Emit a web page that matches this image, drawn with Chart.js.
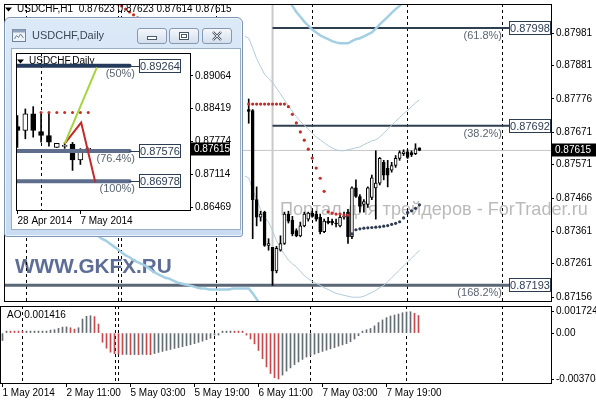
<!DOCTYPE html>
<html>
<head>
<meta charset="utf-8">
<script src="https://cdn.jsdelivr.net/npm/chart.js@4.4.1/dist/chart.umd.min.js"></script>
<style>
  html, body { margin: 0; padding: 0; background: #fff; }
  #wrap { position: relative; width: 596px; height: 400px; overflow: hidden; }
  #win { position: absolute; left: 4px; top: 17px; width: 237px; height: 218px;
         border: 1px solid #7c95b5; border-radius: 6px 6px 3px 3px;
         background: linear-gradient(#dce9f7, #c8dbf0); box-shadow: inset 0 0 0 1px #edf4fc; }
  #winIcon { position: absolute; left: 7px; top: 10px; }
  #winTitle { position: absolute; left: 27px; top: 11px; line-height: 13px;
              font: 11px "Liberation Sans", Arial, sans-serif; color: #3b4756; }
  .btn { position: absolute; top: 10px; width: 28px; height: 14px; border: 1px solid #8699b2;
         border-radius: 3px; background: linear-gradient(#f4f7fb, #d4dfec); }
  .btn svg { display: block; }
  #client { position: absolute; left: 6px; top: 30px; width: 228px; height: 180px;
            background: #fff; border: 1px solid #9aaec6; }
  #dailyCanvas { display: block; }
</style>
</head>
<body>
<div id="wrap">
  <canvas id="mainCanvas" width="596" height="306" style="position:absolute;left:0;top:0"></canvas>
  <canvas id="aoCanvas" width="596" height="94" style="position:absolute;left:0;top:306px"></canvas>
  <div id="win">
    <svg id="winIcon" width="14" height="14">
      <rect x="0.5" y="1.5" width="13" height="12" fill="#eef3f9" stroke="#6f8299"/>
      <rect x="0.5" y="1.5" width="13" height="3" fill="#8ea2bb"/>
      <path d="M2.5 11 L4.5 7.5 L6.5 9.5 L8.5 6 L11.5 10" stroke="#6f8299" fill="none"/>
    </svg>
    <div id="winTitle">USDCHF,Daily</div>
    <div class="btn" style="left:132px"><svg width="28" height="14"><rect x="9.5" y="7.5" width="9" height="3" fill="#fff" stroke="#4b5869"/></svg></div>
    <div class="btn" style="left:164px"><svg width="28" height="14"><rect x="9.5" y="3.5" width="9" height="7" fill="#fff" stroke="#4b5869"/><rect x="11.5" y="5.5" width="5" height="3" fill="none" stroke="#4b5869"/></svg></div>
    <div class="btn" style="left:197px"><svg width="28" height="14"><path d="M10 3 L18 11 M18 3 L10 11" stroke="#4b5869" stroke-width="2.4"/><path d="M10 3 L18 11 M18 3 L10 11" stroke="#fff" stroke-width="0.8"/></svg></div>
    <div id="client"><canvas id="dailyCanvas" width="228" height="180"></canvas></div>
  </div>
</div>
<script>
// ---- H1 chart data (one slot = one hour bar, slot 0 = 1 May 2014 19:00) ----
const timeSlots = [0, 16, 32, 48, 64, 80, 96];
const timeLabels = ['1 May 2014', '2 May 11:00', '5 May 03:00', '5 May 19:00', '6 May 11:00', '7 May 03:00', '7 May 19:00'];
const daySeparators = [5, 28.25, 29, 53, 77, 101, 125];
const priceTicks = [0.87981, 0.87881, 0.87776, 0.87671, 0.87571, 0.87466, 0.87361, 0.87261, 0.87156];
const bidPrice = 0.87615;

// visible candles, first one is slot 61 (the rest sit under the Daily window)
const h1Start = 61;
const h1Open  = [0.87743, 0.87740, 0.87461, 0.87406, 0.87422, 0.87318, 0.87312, 0.87238, 0.87303, 0.87324,
                 0.87416, 0.87397, 0.87364, 0.87348, 0.87379, 0.87400, 0.87419, 0.87416, 0.87406, 0.87361,
                 0.87394, 0.87394, 0.87388, 0.87379, 0.87406, 0.87422, 0.87345, 0.87498, 0.87471, 0.87446,
                 0.87446, 0.87468, 0.87498, 0.87513, 0.87578, 0.87559, 0.87553, 0.87568, 0.87590, 0.87605,
                 0.87611, 0.87608, 0.87605, 0.87623];
const h1High  = [0.87776, 0.87743, 0.87501, 0.87425, 0.87425, 0.87339, 0.87312, 0.87315, 0.87348, 0.87422,
                 0.87425, 0.87409, 0.87370, 0.87391, 0.87422, 0.87422, 0.87425, 0.87425, 0.87416, 0.87400,
                 0.87406, 0.87400, 0.87400, 0.87416, 0.87422, 0.87431, 0.87501, 0.87523, 0.87477, 0.87461,
                 0.87501, 0.87538, 0.87614, 0.87593, 0.87584, 0.87584, 0.87578, 0.87599, 0.87614, 0.87617,
                 0.87617, 0.87614, 0.87636, 0.87623];
const h1Low   = [0.87700, 0.87339, 0.87379, 0.87394, 0.87315, 0.87303, 0.87193, 0.87232, 0.87300, 0.87321,
                 0.87388, 0.87348, 0.87345, 0.87345, 0.87376, 0.87394, 0.87406, 0.87394, 0.87354, 0.87358,
                 0.87385, 0.87382, 0.87376, 0.87376, 0.87400, 0.87324, 0.87339, 0.87468, 0.87422, 0.87422,
                 0.87437, 0.87461, 0.87400, 0.87507, 0.87523, 0.87501, 0.87547, 0.87562, 0.87584, 0.87599,
                 0.87590, 0.87596, 0.87602, 0.87614];
const h1Close = [0.87737, 0.87461, 0.87406, 0.87416, 0.87318, 0.87324, 0.87238, 0.87309, 0.87324, 0.87416,
                 0.87394, 0.87354, 0.87348, 0.87379, 0.87416, 0.87419, 0.87409, 0.87400, 0.87361, 0.87394,
                 0.87388, 0.87388, 0.87385, 0.87406, 0.87409, 0.87345, 0.87498, 0.87471, 0.87440, 0.87455,
                 0.87498, 0.87529, 0.87513, 0.87590, 0.87538, 0.87538, 0.87568, 0.87590, 0.87608, 0.87611,
                 0.87593, 0.87602, 0.87620, 0.87615];

// Bollinger (thin) from slot 60
const bbUpper = [0.87972, 0.87966, 0.87935, 0.87902, 0.87877, 0.87853, 0.87840, 0.87828, 0.87810, 0.87792,
                 0.87773, 0.87755, 0.87737, 0.87721, 0.87706, 0.87694, 0.87682, 0.87669, 0.87657, 0.87648,
                 0.87639, 0.87630, 0.87623, 0.87617, 0.87614, 0.87614, 0.87617, 0.87620, 0.87623, 0.87626,
                 0.87633, 0.87639, 0.87645, 0.87648, 0.87657, 0.87669, 0.87682, 0.87694, 0.87706, 0.87718,
                 0.87730, 0.87740, 0.87752, 0.87764, 0.87773];
const bbLower = [0.87535, 0.87529, 0.87492, 0.87461, 0.87431, 0.87406, 0.87391, 0.87364, 0.87333, 0.87309,
                 0.87290, 0.87272, 0.87260, 0.87251, 0.87238, 0.87223, 0.87214, 0.87205, 0.87199, 0.87193,
                 0.87186, 0.87180, 0.87174, 0.87168, 0.87165, 0.87162, 0.87159, 0.87156, 0.87156, 0.87156,
                 0.87159, 0.87165, 0.87171, 0.87177, 0.87186, 0.87193, 0.87205, 0.87217, 0.87229, 0.87241,
                 0.87254, 0.87266, 0.87278, 0.87290, 0.87303];
// wide band (thick line): upper from slot 70, lower from slot 22
const wideUpper = [0.88103, 0.88085, 0.88067, 0.88048, 0.88033, 0.88018, 0.88005, 0.87993, 0.87984, 0.87975,
                   0.87969, 0.87963, 0.87957, 0.87953, 0.87950, 0.87950, 0.87950, 0.87957, 0.87963, 0.87966,
                   0.87972, 0.87978, 0.87984, 0.87996, 0.88009, 0.88021, 0.88033, 0.88045, 0.88057, 0.88067,
                   0.88079, 0.88090];
const wideLower = [0.87358, 0.87348, 0.87339, 0.87333, 0.87324, 0.87315, 0.87306, 0.87296, 0.87287, 0.87281,
                   0.87272, 0.87266, 0.87260, 0.87254, 0.87245, 0.87235, 0.87229, 0.87223, 0.87217, 0.87214,
                   0.87208, 0.87202, 0.87199, 0.87196, 0.87193, 0.87190, 0.87186, 0.87183, 0.87183, 0.87180,
                   0.87180, 0.87180, 0.87180, 0.87180, 0.87180, 0.87183, 0.87183, 0.87183, 0.87183, 0.87183,
                   0.87168, 0.87150, 0.87131];

// Parabolic SAR
const sarTop  = [0.88073, 0.88067, 0.88057, 0.88048, 0.88039, 0.88030];                      // slots 28-33
const sarBear = [0.87760, 0.87760, 0.87760, 0.87760, 0.87760, 0.87760, 0.87760, 0.87760, 0.87760, 0.87760,
                 0.87752, 0.87728, 0.87701, 0.87673, 0.87647, 0.87619, 0.87591, 0.87560, 0.87528, 0.87487,
                 0.87423, 0.87419, 0.87416, 0.87416, 0.87413, 0.87413];                      // slots 61-86
const sarBull = [0.87354, 0.87367, 0.87370, 0.87372, 0.87373, 0.87374, 0.87375, 0.87376, 0.87378, 0.87380,
                 0.87384, 0.87387, 0.87392, 0.87404, 0.87421, 0.87426, 0.87434, 0.87445];    // slots 87-104

// Fibonacci object on H1
const fibLevelsH1 = [0.87998, 0.87692, 0.87193];
const fibNamesH1 = ['(61.8%)', '(38.2%)', '(168.2%)'];
const fibStartH1 = [67, 67, -2];
const fibEndH1 = 126.6;
const fibPivotH1 = 67;

// Awesome Oscillator, slots 0-104
const aoTicks = [0.001724, 0, -0.003704];
const aoValues = [
  -0.00060, 0.00010, 0.00008, 0.00007, 0.00006, 0.00005, 0.00006, 0.00006, 0.00007, 0.00008,
   0.00011, 0.00016, 0.00024, 0.00027, 0.00038, 0.00048, 0.00050, 0.00043, 0.00032, 0.00043,
   0.00113, 0.00135, 0.00140, 0.00133, 0.00073, -0.00074, -0.00122, -0.00154, -0.00166, -0.00171,
  -0.00173, -0.00172, -0.00174, -0.00173, -0.00174, -0.00172, -0.00173, -0.00174, -0.00165, -0.00156,
  -0.00148, -0.00140, -0.00132, -0.00124, -0.00117, -0.00110, -0.00102, -0.00094, -0.00085, -0.00075,
  -0.00065, -0.00054, -0.00042, -0.00012, -0.00004, 0.00004, 0.00005, 0.00005, 0.00004, 0.00003,
   0.00002, -0.00012, -0.00048, -0.00087, -0.00140, -0.00207, -0.00273, -0.00326, -0.00360, -0.003704,
  -0.00339, -0.00307, -0.00281, -0.00254, -0.00233, -0.00212, -0.00193, -0.00180, -0.00170, -0.00159,
  -0.00148, -0.00138, -0.00127, -0.00117, -0.00106, -0.00095, -0.00085, -0.00069, -0.00048, -0.00021,
   0.00016, 0.00027, 0.00037, 0.00058, 0.00085, 0.00106, 0.00125, 0.00138, 0.00146, 0.00154,
   0.00164, 0.00170, 0.001724, 0.00160, 0.001416];

// ---- Daily chart data (28 Apr .. 8 May 2014) ----
const dailyTickIdx = [0, 8];
const dailyTickLabels = ['28 Apr 2014', '7 May 2014'];
const dailySeparators = [3];
const dailyTicks = [0.89064, 0.88419, 0.87774, 0.87114, 0.86469];
const dailyOpen  = [0.88061, 0.87983, 0.88311, 0.87963, 0.87884, 0.87649, 0.87668, 0.87712, 0.87400, 0.87611];
const dailyHigh  = [0.88278, 0.88409, 0.88455, 0.88323, 0.88342, 0.87727, 0.87747, 0.87747, 0.87625, 0.87636];
const dailyLow   = [0.87649, 0.87819, 0.87851, 0.87753, 0.87675, 0.87649, 0.87629, 0.87193, 0.87310, 0.87590];
const dailyClose = [0.87983, 0.88311, 0.87983, 0.87884, 0.87753, 0.87727, 0.87672, 0.87400, 0.87605, 0.87615];
const dailySar = [0.88337, 0.88337, 0.88337, 0.88337, 0.88337, 0.88337, 0.88337];          // days 3-9
const fibLevelsD1 = [0.89264, 0.87576, 0.86978];
const fibNamesD1 = ['(50%)', '(76.4%)', '(100%)'];
const fibEndD1 = 14.25;
const waveUpX = [6, 10.1];
const waveUpY = [0.87725, 0.89230];
const waveDownX = [6, 8.1, 9.9];
const waveDownY = [0.87725, 0.88140, 0.86960];

// ---- helpers ----
Chart.defaults.font.family = "'Liberation Sans', Arial, sans-serif";
Chart.defaults.font.size = 10;
Chart.defaults.color = '#000';

const FONT = "'Liberation Sans', Arial, sans-serif";
const pts = (start, vals) => vals.map((v, i) => ({ x: start + i, y: v }));
const xy = (xs, ys) => xs.map((v, i) => ({ x: v, y: ys[i] }));

function lineSet(data, color, width, order, extra) {
  return Object.assign({ type: 'line', data: data, borderColor: color, borderWidth: width,
    pointRadius: 0, fill: false, order: order }, extra || {});
}
function dotSet(data, color, order, r) {
  return { type: 'line', data: data, showLine: false, pointRadius: r || 1.6, pointBackgroundColor: color,
    pointBorderWidth: 0, order: order };
}
function candleSets(start, o, h, l, c, width) {
  return [
    { type: 'bar', data: h.map((v, i) => ({ x: start + i, y: [l[i], v] })), backgroundColor: '#000',
      barThickness: 1, grouped: false, order: 3 },
    { type: 'bar', data: o.map((v, i) => ({ x: start + i, y: [v, c[i]] })),
      backgroundColor: o.map((v, i) => c[i] >= v ? '#fff' : '#000'), borderColor: '#000', borderWidth: 1,
      borderSkipped: false, barThickness: width, minBarLength: 1, grouped: false, order: 2 }
  ];
}
const fixTicks = list => scale => { scale.ticks = list.map(v => ({ value: v })); };
const fixWidth = w => s => { s.width = w; s.paddingTop = 0; s.paddingBottom = 0; };
const fixHeight = h => s => { s.height = h; s.paddingLeft = 0; s.paddingRight = 0; };

function fitText(ctx, text, x, y, maxW, style, size) {
  ctx.font = style + size + 'px ' + FONT;
  const w = ctx.measureText(text).width;
  ctx.font = style + (size * maxW / w).toFixed(2) + 'px ' + FONT;
  ctx.textAlign = 'left';
  ctx.textBaseline = 'middle';
  ctx.fillText(text, x, y);
}
function drawHeader(ctx, x, y, text) {
  ctx.fillStyle = '#000';
  ctx.beginPath();
  ctx.moveTo(x, y - 2); ctx.lineTo(x + 7, y - 2); ctx.lineTo(x + 3.5, y + 2); ctx.closePath();
  ctx.fill();
  ctx.font = '10px ' + FONT;
  ctx.textAlign = 'left';
  ctx.textBaseline = 'middle';
  ctx.fillText(text, x + 12, y);
}
function dashedVerticals(ctx, xScale, area, list) {
  ctx.strokeStyle = '#000';
  ctx.lineWidth = 1;
  ctx.setLineDash([3, 3]);
  list.forEach(s => {
    const px = Math.round(xScale.getPixelForValue(s) - 0.5) + 0.5;
    ctx.beginPath(); ctx.moveTo(px, area.top); ctx.lineTo(px, area.bottom); ctx.stroke();
  });
  ctx.setLineDash([]);
}
function frame(ctx, a) {
  ctx.strokeStyle = '#000';
  ctx.lineWidth = 1;
  ctx.strokeRect(a.left + 0.5, a.top + 0.5, a.right - a.left, a.bottom - a.top - 1);
}
function fibBox(ctx, x0, py, text, name, nameRight) {
  ctx.fillStyle = '#fff';
  ctx.fillRect(x0 + 0.5, py - 6.5, 41, 13);
  ctx.strokeStyle = '#2c3d52';
  ctx.lineWidth = 1;
  ctx.strokeRect(x0 + 0.5, py - 6.5, 41, 13);
  ctx.font = '11px ' + FONT;
  ctx.fillStyle = '#2c3d52';
  ctx.textAlign = 'center';
  ctx.textBaseline = 'middle';
  ctx.fillText(text, x0 + 21, py + 0.5);
  ctx.fillStyle = '#5b6672';
  ctx.textAlign = 'right';
  ctx.fillText(name, nameRight, py + 8);
}
function priceBox(ctx, a, py, x1, text) {
  ctx.fillStyle = '#000';
  ctx.fillRect(a.right + 1, py - 6.5, x1 - a.right - 1, 13);
  ctx.fillStyle = '#fff';
  ctx.font = '10px ' + FONT;
  ctx.textAlign = 'left';
  ctx.textBaseline = 'middle';
  ctx.fillText(text, a.right + 4, py + 0.5);
}

const xMin = -0.625, xMax = 137.125;   // 4 px per hour bar

// ---- main H1 chart ----
const mainDecor = {
  id: 'mainDecor',
  beforeDatasetsDraw(chart) {
    const { ctx, chartArea: a, scales: { x } } = chart;
    ctx.save();
    ctx.fillStyle = 'rgba(130,130,130,0.55)';
    fitText(ctx, 'Портал для трейдеров - ForTrader.ru', 280, 210, 308, '', 17);
    ctx.fillStyle = 'rgba(66,84,132,0.85)';
    fitText(ctx, 'WWW.GKFX.RU', 15, 267, 157, 'bold ', 20);
    dashedVerticals(ctx, x, a, daySeparators);
    ctx.restore();
  },
  afterDatasetsDraw(chart) {
    const { ctx, chartArea: a, scales: { x, y } } = chart;
    ctx.save();
    const bx = Math.round(x.getPixelForValue(fibEndH1));
    fibLevelsH1.forEach((v, i) => {
      fibBox(ctx, bx, Math.round(y.getPixelForValue(v)), v.toFixed(5), fibNamesH1[i], bx - 7);
    });
    priceBox(ctx, a, Math.round(y.getPixelForValue(bidPrice)), 596, bidPrice.toFixed(5));
    const n = h1Close.length - 1;
    const ohlc = [h1Open[n], h1High[n], h1Low[n], h1Close[n]].map(v => v.toFixed(5)).join(' ');
    drawHeader(ctx, 5, 9.5, 'USDCHF,H1  ' + ohlc);
    frame(ctx, a);
    ctx.restore();
  }
};

new Chart(document.getElementById('mainCanvas'), {
  type: 'bar',
  data: {
    datasets: [
      lineSet([{ x: xMin - 1, y: bidPrice }, { x: xMax + 1, y: bidPrice }], '#c6c6c6', 1, 9),
      lineSet([{ x: fibPivotH1, y: fibLevelsH1[2] }, { x: fibPivotH1, y: 0.8815 }], '#c9c9c9', 2, 8),
      ...fibLevelsH1.map((v, i) => lineSet([{ x: fibStartH1[i], y: v }, { x: fibEndH1, y: v }],
        i === 2 ? '#5c6776' : '#2f3f4f', i === 2 ? 3 : 2, 7)),
      lineSet(pts(70, wideUpper), '#a4cfe2', 2.5, 6),
      lineSet(pts(22, wideLower), '#a4cfe2', 2.5, 6),
      lineSet(pts(60, bbUpper), '#b2cbdb', 1, 5),
      lineSet(pts(60, bbLower), '#b2cbdb', 1, 5),
      ...candleSets(h1Start, h1Open, h1High, h1Low, h1Close, 3),
      dotSet(pts(28, sarTop), '#bf2f2b', 1),
      dotSet(pts(61, sarBear), '#bf2f2b', 1),
      dotSet(pts(87, sarBull), '#2c3a52', 1)
    ]
  },
  options: {
    responsive: false, animation: false, events: [],
    layout: { padding: { left: 0, right: 0, top: 0, bottom: 1 } },
    plugins: { legend: { display: false }, tooltip: { enabled: false } },
    scales: {
      x: { type: 'linear', min: xMin, max: xMax, offset: false, display: false },
      y: {
        position: 'right', min: 0.87141, max: 0.88073,
        afterFit: fixWidth(45), afterBuildTicks: fixTicks(priceTicks),
        ticks: { autoSkip: false, padding: 2, callback: v => v.toFixed(5) },
        grid: { drawOnChartArea: false, tickLength: 3, color: '#000' },
        border: { display: false }
      }
    }
  },
  plugins: [mainDecor]
});

// ---- AO sub-window ----
const aoDecor = {
  id: 'aoDecor',
  beforeDatasetsDraw(chart) {
    const { ctx, chartArea: a, scales: { x } } = chart;
    ctx.save();
    dashedVerticals(ctx, x, a, daySeparators);
    ctx.restore();
  },
  afterDatasetsDraw(chart) {
    const { ctx, chartArea: a } = chart;
    ctx.save();
    ctx.fillStyle = '#000';
    ctx.font = '10px ' + FONT;
    ctx.textAlign = 'left';
    ctx.textBaseline = 'middle';
    ctx.fillText('AO ' + aoValues[aoValues.length - 1].toFixed(6), 7, 9.5);
    frame(ctx, a);
    ctx.restore();
  }
};

new Chart(document.getElementById('aoCanvas'), {
  type: 'bar',
  data: {
    datasets: [{
      data: pts(0, aoValues),
      backgroundColor: aoValues.map((v, i) => i > 0 && v < aoValues[i - 1] ? '#c8484c' : '#646c76'),
      barThickness: 1, minBarLength: 2, grouped: false
    }]
  },
  options: {
    responsive: false, animation: false, events: [],
    layout: { padding: 0 },
    plugins: { legend: { display: false }, tooltip: { enabled: false } },
    scales: {
      x: {
        type: 'linear', min: xMin, max: xMax, offset: false,
        afterFit: fixHeight(16), afterBuildTicks: fixTicks(timeSlots),
        ticks: { autoSkip: false, maxRotation: 0, align: 'start', padding: 0,
                 callback: v => timeLabels[timeSlots.indexOf(v)] },
        grid: { drawOnChartArea: false, tickLength: 3, color: '#000', offset: false },
        border: { display: false }
      },
      y: {
        position: 'right', min: -0.004107, max: 0.002184,
        afterFit: fixWidth(45), afterBuildTicks: fixTicks(aoTicks),
        ticks: { autoSkip: false, padding: 2, callback: v => v === 0 ? '0.00' : v.toFixed(6) },
        grid: { drawOnChartArea: false, tickLength: 3, color: '#000' },
        border: { display: false }
      }
    }
  },
  plugins: [aoDecor]
});

// ---- Daily chart inside the floating window ----
const dailyDecor = {
  id: 'dailyDecor',
  beforeDatasetsDraw(chart) {
    const { ctx, chartArea: a, scales: { x } } = chart;
    ctx.save();
    dashedVerticals(ctx, x, a, dailySeparators);
    drawHeader(ctx, 5, a.top + 8.5, 'USDCHF,Daily');
    ctx.restore();
  },
  afterDatasetsDraw(chart) {
    const { ctx, chartArea: a, scales: { x, y } } = chart;
    ctx.save();
    const ex = x.getPixelForValue(fibEndD1);
    const bx = Math.round(ex) + 9;
    fibLevelsD1.forEach((v, i) => {
      const py = Math.round(y.getPixelForValue(v));
      ctx.strokeStyle = '#2c3d52';
      ctx.lineWidth = 1;
      ctx.beginPath(); ctx.moveTo(ex, py + 0.5); ctx.lineTo(bx, py + 0.5); ctx.stroke();
      fibBox(ctx, bx, py, v.toFixed(5), fibNamesD1[i], bx - 4);
    });
    priceBox(ctx, a, Math.round(y.getPixelForValue(dailyClose[dailyClose.length - 1])), 218,
      dailyClose[dailyClose.length - 1].toFixed(5));
    frame(ctx, a);
    ctx.restore();
  }
};

new Chart(document.getElementById('dailyCanvas'), {
  type: 'bar',
  data: {
    datasets: [
      ...candleSets(0, dailyOpen, dailyHigh, dailyLow, dailyClose, 5),
      ...fibLevelsD1.map((v, i) => lineSet([{ x: -1, y: v }, { x: fibEndD1, y: v }],
        i === 0 ? '#243a5c' : '#5d6d8b', 4, 1, { borderCapStyle: 'round' })),
      lineSet(xy(waveUpX, waveUpY), '#a6d43c', 2, 0),
      lineSet(xy(waveDownX, waveDownY), '#c42a2c', 2, 0),
      dotSet(pts(3, dailySar), '#c0302c', 0, 1.5)
    ]
  },
  options: {
    responsive: false, animation: false, events: [],
    layout: { padding: { left: 1, top: 3, right: 0, bottom: 0 } },
    plugins: { legend: { display: false }, tooltip: { enabled: false } },
    scales: {
      x: {
        type: 'linear', min: -0.1875, max: 21.9375, offset: false,
        afterFit: fixHeight(18), afterBuildTicks: fixTicks(dailyTickIdx),
        ticks: { autoSkip: false, maxRotation: 0, align: 'start', padding: 1,
                 callback: v => dailyTickLabels[dailyTickIdx.indexOf(v)] },
        grid: { drawOnChartArea: false, tickLength: 3, color: '#000', offset: false },
        border: { display: false }
      },
      y: {
        position: 'right', min: 0.86390, max: 0.89516,
        afterFit: fixWidth(50), afterBuildTicks: fixTicks(dailyTicks),
        ticks: { autoSkip: false, padding: 2, callback: v => v.toFixed(5) },
        grid: { drawOnChartArea: false, tickLength: 3, color: '#000' },
        border: { display: false }
      }
    }
  },
  plugins: [dailyDecor]
});
</script>
</body>
</html>
